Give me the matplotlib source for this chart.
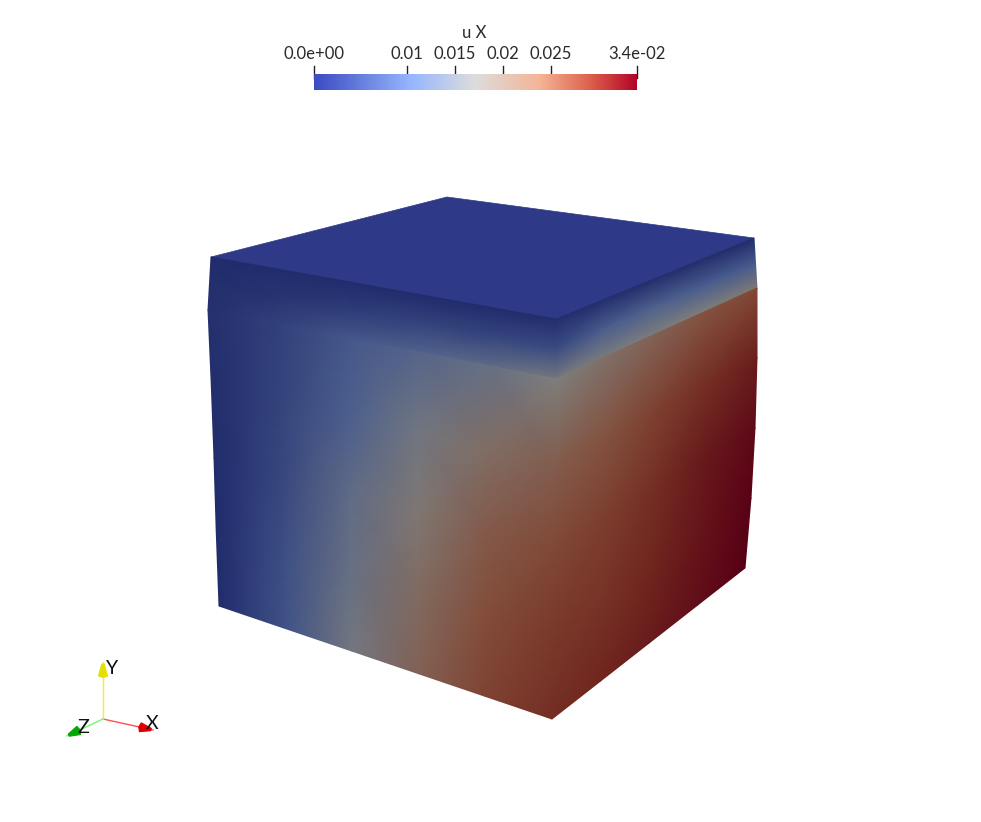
import numpy as np
import matplotlib
matplotlib.use("Agg")
import matplotlib.pyplot as plt
from matplotlib.colors import LinearSegmentedColormap as LSC
from matplotlib.patches import Polygon

plt.rcParams['font.family'] = ['Lato', 'DejaVu Sans']

# colour-bar data
bar_title = "u X"
tick_values = [0.0003, 0.01, 0.015, 0.02, 0.025, 0.034]
tick_labels = ["0.0e+00", "0.01", "0.015", "0.02", "0.025", "3.4e-02"]
vmin, vmax = 0.0003, 0.034

# cube outline, pixel positions
top_face = [(211, 257), (447, 197), (754, 238), (556, 319)]
left_band = [(211, 257), (556, 319), (556, 379), (208, 310)]
right_band = [(556, 319), (754, 238), (757, 288), (556, 379)]
left_face = [(208, 310), (556, 379), (552, 719), (219, 606)]
right_face = [(556, 379), (757, 288), (745, 568), (552, 719)]
left_bulge = [0, 0.5, 0.5, 0, 0]           # outward offset of the left edge per row
right_bulge = [0, 3, 4, 3, 0]              # outward offset of the right edge per row

# shaded field, normalised 0..1 (rows top to bottom, columns left to right)
u_left_band = [[.02, .02, .02, .02, .02, .03],
               [.03, .06, .10, .13, .14, .17],
               [.04, .12, .22, .28, .35, .46]]
u_right_band = [[.03, .03, .03, .03, .02],
                [.17, .26, .28, .25, .24],
                [.46, .48, .49, .50, .52]]
u_left_face = [[.04, .12, .23, .31, .39, .50],
               [.03, .13, .27, .44, .57, .64],
               [.02, .15, .36, .53, .65, .72],
               [.02, .18, .40, .58, .70, .78],
               [.02, .20, .45, .62, .74, .82]]
u_right_face = [[.50, .56, .62, .68, .72],
                [.64, .68, .75, .82, .88],
                [.72, .76, .82, .90, .96],
                [.78, .80, .85, .92, .99],
                [.82, .85, .89, .94, 1.0]]
top_rgb = (46 / 255, 58 / 255, 135 / 255)

# triad, pixel positions
origin = (103, 719)
x_tip, y_tip, z_tip = (153, 730), (103, 662), (67, 736)

shade = LSC.from_list("shade", [(0, (30/255, 40/255, 105/255)),
                                (.25, (72/255, 92/255, 142/255)),
                                (.5, (126/255, 126/255, 124/255)),
                                (.7, (132/255, 78/255, 58/255)),
                                (.85, (112/255, 38/255, 30/255)),
                                (1, (88/255, 0, 22/255))])
bar = LSC.from_list("bar", [(0, (59/255, 76/255, 192/255)),
                            (.3, (150/255, 182/255, 255/255)),
                            (.5, (221/255, 221/255, 221/255)),
                            (.7, (245/255, 180/255, 150/255)),
                            (.85, (222/255, 100/255, 78/255)),
                            (1, (180/255, 4/255, 38/255))])

fig = plt.figure(figsize=(9.81, 8.22), dpi=100)
ax = fig.add_axes([0, 0, 1, 1])
ax.set_xlim(0, 981)
ax.set_ylim(822, 0)
ax.axis("off")


def face(corners, values, l_off=None, r_off=None):
    values = np.array(values, float)
    nr, nc = values.shape
    c = np.array(corners, float)
    s, t = np.meshgrid(np.linspace(0, 1, nc), np.linspace(0, 1, nr))
    X = (1-s)*(1-t)*c[0, 0] + s*(1-t)*c[1, 0] + s*t*c[2, 0] + (1-s)*t*c[3, 0]
    Y = (1-s)*(1-t)*c[0, 1] + s*(1-t)*c[1, 1] + s*t*c[2, 1] + (1-s)*t*c[3, 1]
    if l_off is not None:
        X = X + (1-s) * np.array(l_off)[:, None]
    if r_off is not None:
        X = X + s * np.array(r_off)[:, None]
    ax.pcolormesh(X, Y, values, shading="gouraud", cmap=shade, vmin=0, vmax=1,
                  antialiased=True)


ax.add_patch(Polygon(top_face, closed=True, fc=top_rgb, ec=top_rgb, lw=.5))
face(left_band, u_left_band)
face(right_band, u_right_band)
face(left_face, u_left_face, l_off=left_bulge)
face(right_face, u_right_face, r_off=right_bulge)

# colour bar
bax = fig.add_axes([314/981, 1-90/822, 323/981, 16/822])
bax.imshow(np.linspace(0, 1, 256)[None, :], aspect="auto", cmap=bar,
           extent=[vmin, vmax, 0, 1])
bax.set_xlim(vmin, vmax)
bax.set_xticks([])
bax.set_yticks([])
for sp in bax.spines.values():
    sp.set_visible(False)
for v, lab in zip(tick_values, tick_labels):
    x = 314 + (v - vmin) / (vmax - vmin) * 323
    ax.plot([x, x], [66, 78], color="#222222", lw=1, zorder=5)
    ax.text(x, 54, lab, ha="center", va="center", fontsize=12, color="#2a2a2a")
ax.text(474, 33, bar_title, ha="center", va="center", fontsize=12, color="#2a2a2a")


# triad
def arrow(tip, col, cone_col, length, width):
    o = np.array(origin, float)
    t = np.array(tip, float)
    ax.plot([o[0], t[0]], [o[1], t[1]], color=col, lw=1, zorder=3)
    d = (t - o) / np.linalg.norm(t - o)
    n = np.array([-d[1], d[0]])
    b = t - d * length
    ax.add_patch(Polygon([t - d*2 + n*1.2, b + n*width, b - d*1.5, b - n*width,
                          t - d*2 - n*1.2], closed=True,
                         fc=cone_col, ec=cone_col, lw=.8, zorder=4))


arrow(x_tip, "#ff5050", "#dc0000", 13, 4.5)
arrow(y_tip, "#f2ee30", "#e6e000", 14, 4.5)
arrow(z_tip, "#70f870", "#00a800", 13, 4.5)
ax.text(152, 723, "X", ha="center", va="center", fontsize=14, color="#111111", zorder=6)
ax.text(112, 668, "Y", ha="center", va="center", fontsize=14, color="#111111", zorder=6)
ax.text(83, 727, "Z", ha="center", va="center", fontsize=14, color="#111111", zorder=6)

fig.savefig("out.png", dpi=100)
